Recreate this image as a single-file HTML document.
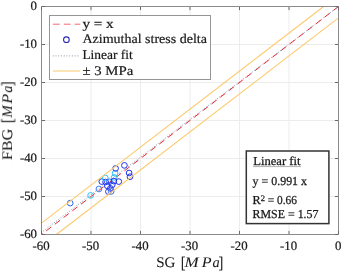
<!DOCTYPE html>
<html><head><meta charset="utf-8"><style>
html,body{margin:0;padding:0;background:#fff;}
svg{display:block;}
text{font-family:"Liberation Serif",serif;fill:#1a1a1a;stroke:#1a1a1a;stroke-width:0.12px;will-change:transform;text-rendering:geometricPrecision;}
.t{font-size:12.8px;stroke-width:0.22px;}
.l{font-size:14.6px;stroke-width:0.05px;}
.g{font-size:13.2px;stroke-width:0.2px;}
.b{font-size:12.2px;stroke-width:0.26px;}
</style></head><body>
<svg width="342" height="272" viewBox="0 0 342 272">
<rect width="342" height="272" fill="#fff"/>
<line x1="91.00" y1="6.50" x2="91.00" y2="234.50" stroke="#ececec" stroke-width="1"/>
<line x1="41.50" y1="196.50" x2="338.50" y2="196.50" stroke="#ececec" stroke-width="1"/>
<line x1="140.50" y1="6.50" x2="140.50" y2="234.50" stroke="#ececec" stroke-width="1"/>
<line x1="41.50" y1="158.50" x2="338.50" y2="158.50" stroke="#ececec" stroke-width="1"/>
<line x1="190.00" y1="6.50" x2="190.00" y2="234.50" stroke="#ececec" stroke-width="1"/>
<line x1="41.50" y1="120.50" x2="338.50" y2="120.50" stroke="#ececec" stroke-width="1"/>
<line x1="239.50" y1="6.50" x2="239.50" y2="234.50" stroke="#ececec" stroke-width="1"/>
<line x1="41.50" y1="82.50" x2="338.50" y2="82.50" stroke="#ececec" stroke-width="1"/>
<line x1="289.00" y1="6.50" x2="289.00" y2="234.50" stroke="#ececec" stroke-width="1"/>
<line x1="41.50" y1="44.50" x2="338.50" y2="44.50" stroke="#ececec" stroke-width="1"/>
<clipPath id="c"><rect x="41.5" y="6.5" width="297.0" height="228.0"/></clipPath>
<g clip-path="url(#c)">
<line x1="338.50" y1="6.50" x2="41.50" y2="232.45" stroke="#8a96a4" stroke-width="1" stroke-dasharray="1 1.73" stroke-dashoffset="-1.5"/>
<line x1="338.50" y1="6.50" x2="41.50" y2="234.50" stroke="#e82a3a" stroke-width="1.0" stroke-dasharray="6.5 4.47"/>
</g>
<circle cx="70.2" cy="203.1" r="2.85" fill="none" stroke="#2f6af2" stroke-width="1.0"/>
<circle cx="90.6" cy="195.4" r="2.85" fill="none" stroke="#28c2f4" stroke-width="1.0"/>
<circle cx="98.9" cy="189.0" r="2.85" fill="none" stroke="#3a7ef4" stroke-width="1.0"/>
<circle cx="101.8" cy="181.6" r="2.85" fill="none" stroke="#2232ec" stroke-width="1.0"/>
<circle cx="105.6" cy="182.0" r="2.85" fill="none" stroke="#2232ec" stroke-width="1.0"/>
<circle cx="105.3" cy="177.9" r="2.85" fill="none" stroke="#28c2f4" stroke-width="1.0"/>
<circle cx="109.4" cy="181.8" r="2.85" fill="none" stroke="#2f6af2" stroke-width="1.0"/>
<circle cx="114.2" cy="177.4" r="2.85" fill="none" stroke="#28c2f4" stroke-width="1.0"/>
<circle cx="113.9" cy="181.1" r="2.85" fill="none" stroke="#2232ec" stroke-width="1.0"/>
<circle cx="118.8" cy="181.6" r="2.85" fill="none" stroke="#2232ec" stroke-width="1.0"/>
<circle cx="107.3" cy="185.8" r="2.85" fill="none" stroke="#2232ec" stroke-width="1.0"/>
<circle cx="110.4" cy="188.4" r="2.85" fill="none" stroke="#2232ec" stroke-width="1.0"/>
<circle cx="108.4" cy="191.6" r="2.85" fill="none" stroke="#2232ec" stroke-width="1.0"/>
<circle cx="111.2" cy="191.4" r="2.85" fill="none" stroke="#2f6af2" stroke-width="1.0"/>
<circle cx="112.3" cy="184.8" r="2.85" fill="none" stroke="#2232ec" stroke-width="1.0"/>
<circle cx="115.1" cy="173.3" r="2.85" fill="none" stroke="#28c2f4" stroke-width="1.0"/>
<circle cx="115.6" cy="168.4" r="2.85" fill="none" stroke="#2232ec" stroke-width="1.0"/>
<circle cx="124.4" cy="165.4" r="2.85" fill="none" stroke="#2232ec" stroke-width="1.0"/>
<circle cx="129.1" cy="173.0" r="2.85" fill="none" stroke="#2232ec" stroke-width="1.0"/>
<circle cx="130.0" cy="176.7" r="2.85" fill="none" stroke="#2232ec" stroke-width="1.0"/>
<g clip-path="url(#c)">
<line x1="41.50" y1="223.10" x2="323.65" y2="6.50" stroke="#fcca6c" stroke-width="1.05"/>
<line x1="56.35" y1="234.50" x2="338.50" y2="17.90" stroke="#fcca6c" stroke-width="1.05"/>
</g>
<rect x="41.50" y="6.50" width="297.00" height="228.00" fill="none" stroke="#8a8a8a" stroke-width="1"/>
<line x1="41.50" y1="234.00" x2="41.50" y2="230.90" stroke="#6a6a6a"/>
<line x1="41.50" y1="7.00" x2="41.50" y2="10.10" stroke="#6a6a6a"/>
<line x1="42.00" y1="234.50" x2="45.10" y2="234.50" stroke="#6a6a6a"/>
<line x1="338.00" y1="234.50" x2="334.90" y2="234.50" stroke="#6a6a6a"/>
<line x1="91.00" y1="234.00" x2="91.00" y2="230.90" stroke="#6a6a6a"/>
<line x1="91.00" y1="7.00" x2="91.00" y2="10.10" stroke="#6a6a6a"/>
<line x1="42.00" y1="196.50" x2="45.10" y2="196.50" stroke="#6a6a6a"/>
<line x1="338.00" y1="196.50" x2="334.90" y2="196.50" stroke="#6a6a6a"/>
<line x1="140.50" y1="234.00" x2="140.50" y2="230.90" stroke="#6a6a6a"/>
<line x1="140.50" y1="7.00" x2="140.50" y2="10.10" stroke="#6a6a6a"/>
<line x1="42.00" y1="158.50" x2="45.10" y2="158.50" stroke="#6a6a6a"/>
<line x1="338.00" y1="158.50" x2="334.90" y2="158.50" stroke="#6a6a6a"/>
<line x1="190.00" y1="234.00" x2="190.00" y2="230.90" stroke="#6a6a6a"/>
<line x1="190.00" y1="7.00" x2="190.00" y2="10.10" stroke="#6a6a6a"/>
<line x1="42.00" y1="120.50" x2="45.10" y2="120.50" stroke="#6a6a6a"/>
<line x1="338.00" y1="120.50" x2="334.90" y2="120.50" stroke="#6a6a6a"/>
<line x1="239.50" y1="234.00" x2="239.50" y2="230.90" stroke="#6a6a6a"/>
<line x1="239.50" y1="7.00" x2="239.50" y2="10.10" stroke="#6a6a6a"/>
<line x1="42.00" y1="82.50" x2="45.10" y2="82.50" stroke="#6a6a6a"/>
<line x1="338.00" y1="82.50" x2="334.90" y2="82.50" stroke="#6a6a6a"/>
<line x1="289.00" y1="234.00" x2="289.00" y2="230.90" stroke="#6a6a6a"/>
<line x1="289.00" y1="7.00" x2="289.00" y2="10.10" stroke="#6a6a6a"/>
<line x1="42.00" y1="44.50" x2="45.10" y2="44.50" stroke="#6a6a6a"/>
<line x1="338.00" y1="44.50" x2="334.90" y2="44.50" stroke="#6a6a6a"/>
<line x1="338.50" y1="234.00" x2="338.50" y2="230.90" stroke="#6a6a6a"/>
<line x1="338.50" y1="7.00" x2="338.50" y2="10.10" stroke="#6a6a6a"/>
<line x1="42.00" y1="6.50" x2="45.10" y2="6.50" stroke="#6a6a6a"/>
<line x1="338.00" y1="6.50" x2="334.90" y2="6.50" stroke="#6a6a6a"/>
<text x="41.10" y="250" text-anchor="middle" class="t">-60</text>
<text x="37" y="238.10" text-anchor="end" class="t">-60</text>
<text x="90.60" y="250" text-anchor="middle" class="t">-50</text>
<text x="37" y="200.10" text-anchor="end" class="t">-50</text>
<text x="140.10" y="250" text-anchor="middle" class="t">-40</text>
<text x="37" y="162.10" text-anchor="end" class="t">-40</text>
<text x="189.60" y="250" text-anchor="middle" class="t">-30</text>
<text x="37" y="124.10" text-anchor="end" class="t">-30</text>
<text x="239.10" y="250" text-anchor="middle" class="t">-20</text>
<text x="37" y="86.10" text-anchor="end" class="t">-20</text>
<text x="288.60" y="250" text-anchor="middle" class="t">-10</text>
<text x="37" y="48.10" text-anchor="end" class="t">-10</text>
<text x="338.10" y="250" text-anchor="middle" class="t">0</text>
<text x="37" y="10.10" text-anchor="end" class="t">0</text>
<g transform="translate(156.2,266.7)"><text x="0" y="0" class="l" textLength="19.2" lengthAdjust="spacingAndGlyphs">SG</text><text x="24.5" y="0" class="l" font-size="16px" transform="translate(0,1) scale(1,1.1)">[</text><text x="28.2" y="0" class="l" font-style="italic" textLength="14.2" lengthAdjust="spacingAndGlyphs">M</text><text x="45.6" y="0" class="l" font-style="italic" textLength="9.8" lengthAdjust="spacingAndGlyphs">P</text><text x="56.4" y="0" class="l" font-style="italic" textLength="7.2" lengthAdjust="spacingAndGlyphs">a</text><text x="62.4" y="0" class="l" font-size="16px" transform="translate(0,1) scale(1,1.1)">]</text></g>
<g transform="translate(12.0,160.2) rotate(-90)"><text x="0" y="0" class="l" textLength="31.5" lengthAdjust="spacingAndGlyphs">FBG</text><text x="36.9" y="0" class="l" font-size="16px" transform="translate(0,1) scale(1,1.1)">[</text><text x="42.4" y="0" class="l" font-style="italic" textLength="12.4" lengthAdjust="spacingAndGlyphs">M</text><text x="56.6" y="0" class="l" font-style="italic" textLength="9.8" lengthAdjust="spacingAndGlyphs">P</text><text x="67.6" y="0" class="l" font-style="italic" textLength="7.0" lengthAdjust="spacingAndGlyphs">a</text><text x="74.0" y="0" class="l" font-size="16px" transform="translate(0,1) scale(1,1.1)">]</text></g>
<rect x="49.5" y="15.5" width="161" height="64" fill="#fff" stroke="#959595" stroke-width="1"/>
<line x1="52.9" y1="24.2" x2="80.3" y2="24.2" stroke="#f26a6e" stroke-width="1" stroke-dasharray="6.8 4.1"/>
<circle cx="66.4" cy="39.7" r="2.85" fill="none" stroke="#2626b8" stroke-width="1.05"/>
<line x1="52.8" y1="55.9" x2="79" y2="55.9" stroke="#8a96a4" stroke-width="1" stroke-dasharray="1 1.73"/>
<line x1="52.9" y1="71.0" x2="80.4" y2="71.0" stroke="#fcca6c" stroke-width="1"/>
<text x="82.4" y="27.7" class="g" textLength="31.3" lengthAdjust="spacingAndGlyphs">y = x</text>
<text x="82.4" y="42.5" class="g" textLength="124.6" lengthAdjust="spacingAndGlyphs">Azimuthal stress delta</text>
<text x="82.4" y="58.9" class="g" textLength="50.4" lengthAdjust="spacingAndGlyphs">Linear fit</text>
<text x="82.4" y="74.5" class="g" textLength="50.8" lengthAdjust="spacingAndGlyphs">± 3 MPa</text>
<rect x="246.3" y="151" width="82.6" height="72.6" fill="#fff" stroke="#333" stroke-width="1.5"/>
<text x="253.2" y="165.2" class="b" textLength="47.3" lengthAdjust="spacingAndGlyphs">Linear fit</text>
<line x1="253" y1="166.6" x2="301" y2="166.6" stroke="#b0b0b0" stroke-width="1"/>
<text x="252.6" y="185.0" class="b" textLength="54.4" lengthAdjust="spacingAndGlyphs">y = 0.991 x</text>
<text x="252.5" y="204.2" class="b">R<tspan dy="-3.6" font-size="8.5">2</tspan><tspan dy="3.6" textLength="32" lengthAdjust="spacingAndGlyphs"> = 0.66</tspan></text>
<text x="252.5" y="217.6" class="b" textLength="66" lengthAdjust="spacingAndGlyphs">RMSE = 1.57</text>
</svg>
</body></html>
